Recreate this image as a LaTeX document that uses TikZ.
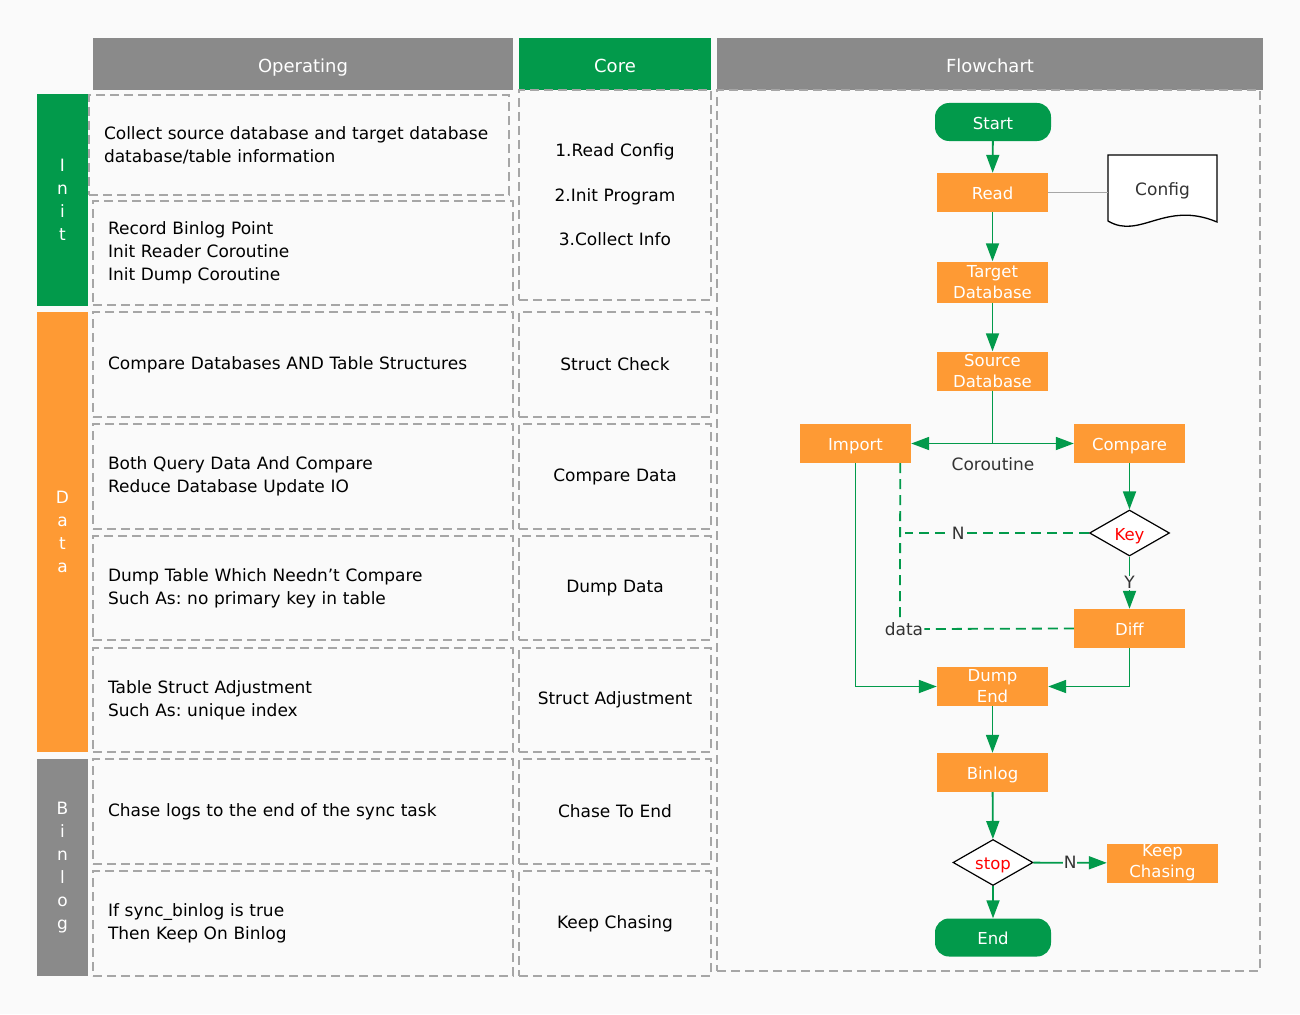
\documentclass[tikz,border=0pt]{standalone}
\usepackage{fontspec}
\setmainfont{DejaVu Sans}
\usetikzlibrary{arrows.meta,shapes.geometric}
\definecolor{hintergrund}{HTML}{FAFAFA}
\definecolor{kopfgrau}{HTML}{8A8A8A}
\definecolor{strichgrau}{HTML}{A6A6A6}
\definecolor{gruen}{HTML}{029A4B}
\definecolor{orange}{HTML}{FE9A34}
\definecolor{dunkel}{HTML}{333333}
\frenchspacing

\begin{document}
\begin{tikzpicture}[x=1pt,y=-1pt,
	zelle/.style={draw=strichgrau, line width=1.4pt, dash pattern=on 9pt off 5pt, inner ysep=0pt},
	op/.style={zelle, minimum width=420pt, text width=390pt, inner xsep=15pt, align=left, font=\fontsize{17}{23}\selectfont},
	kern/.style={zelle, minimum width=192pt, text width=180pt, inner xsep=6pt, align=center, font=\fontsize{17}{23}\selectfont},
	kopf/.style={fill=#1, text=white, minimum height=52pt, inner sep=0pt, text height=18pt, text depth=0pt, font=\fontsize{18}{22}\selectfont},
	band/.style={fill=#1, text=white, minimum width=51pt, inner sep=0pt, align=center, font=\fontsize{17}{23}\selectfont},
	proc/.style={fill=orange, text=white, minimum width=111pt, minimum height=39pt, inner sep=0pt, align=center, font=\fontsize{16.5}{21}\selectfont},
	term/.style={fill=gruen, text=white, rounded corners=14pt, minimum width=116pt, minimum height=38pt, inner sep=0pt, font=\fontsize{16.5}{21}\selectfont},
	eins/.style={text height=14pt, text depth=0pt},
	frage/.style={diamond, aspect=1.7, draw=black, line width=1.2pt, fill=white, text=red, minimum width=80pt, minimum height=46pt, inner sep=0pt, eins, font=\fontsize{16.5}{21}\selectfont},
	lbl/.style={fill=hintergrund, text=dunkel, inner sep=1pt, font=\fontsize{17}{21}\selectfont},
	flow/.style={draw=gruen, line width=1.8pt, -{Triangle[length=18pt,width=13pt]}},
	dflow/.style={draw=gruen, line width=1.8pt, dash pattern=on 10pt off 6pt}]
	%Hintergrund
	\fill[hintergrund] (0,0) rectangle (1300,1014);
	\useasboundingbox (0,0) rectangle (1300,1014);
	%Kopfzeile
	\node[kopf=kopfgrau, minimum width=420pt] (hop) at (303,64) {Operating};
	\node[kopf=gruen, minimum width=192pt] (hcore) at (615,64) {Core};
	\node[kopf=kopfgrau, minimum width=546pt] (hflow) at (990,64) {Flowchart};
	%Phasen
	\node[band=gruen, minimum height=211pt] (binit) at (62.5,200) {I\\n\\i\\t};
	\node[band=orange, minimum height=440pt] (bdata) at (62.5,532) {D\\a\\t\\a};
	\node[band=kopfgrau, minimum height=217pt] (bbinlog) at (62.5,867.5) {B\\i\\n\\l\\o\\g};
	%Operating
	\node[op, minimum height=100pt] (op1) at (299,145) {Collect source database and target database\\database/table information};
	\node[op, minimum height=104pt] (op2) at (303,253) {Record Binlog Point\\Init Reader Coroutine\\Init Dump Coroutine};
	\node[op, minimum height=105pt] (op3) at (303,364.5) {Compare Databases AND Table Structures};
	\node[op, minimum height=105pt] (op4) at (303,476.5) {Both Query Data And Compare\\Reduce Database Update IO};
	\node[op, minimum height=104pt] (op5) at (303,588) {Dump Table Which Needn't Compare\\Such As: no primary key in table};
	\node[op, minimum height=104pt] (op6) at (303,700) {Table Struct Adjustment\\Such As: unique index};
	\node[op, minimum height=105pt] (op7) at (303,811.5) {Chase logs to the end of the sync task};
	\node[op, minimum height=105pt] (op8) at (303,923.5) {If sync\_binlog is true\\Then Keep On Binlog};
	%Core
	\node[kern, minimum height=210pt, font=\fontsize{17}{44.5}\selectfont] (core1) at (615,195) {1.Read Config\\2.Init Program\\3.Collect Info};
	\node[kern, minimum height=105pt] (core3) at (615,364.5) {Struct Check};
	\node[kern, minimum height=105pt] (core4) at (615,476.5) {Compare Data};
	\node[kern, minimum height=104pt] (core5) at (615,588) {Dump Data};
	\node[kern, minimum height=104pt] (core6) at (615,700) {Struct Adjustment};
	\node[kern, minimum height=105pt] (core7) at (615,811.5) {Chase To End};
	\node[kern, minimum height=105pt] (core8) at (615,923.5) {Keep Chasing};
	%Flowchart Rahmen
	\node[zelle, minimum width=543pt, minimum height=881pt] (rahmen) at (988.5,530.5) {};
	%Knoten
	\node[term, eins] (start) at (993,122) {Start};
	\node[proc, eins] (read) at (992.5,192.5) {Read};
	\node[proc, minimum height=41pt] (target) at (992.5,282) {Target\\Database};
	\node[proc] (source) at (992.5,371) {Source\\Database};
	\node[proc, eins] (import) at (855.5,443.5) {Import};
	\node[proc, eins] (compare) at (1129.5,443.5) {Compare};
	\node[frage] (key) at (1129.5,533) {Key};
	\node[proc, eins] (diff) at (1129.5,628.5) {Diff};
	\node[proc] (dump) at (992.5,686.5) {Dump\\End};
	\node[proc, eins] (binlog) at (992.5,772.5) {Binlog};
	\node[frage] (stop) at (993,862.5) {stop};
	\node[proc] (keep) at (1162.5,863) {Keep\\Chasing};
	\node[term, eins] (ende) at (993,937.5) {End};
	%Config Dokument
	\draw[black, line width=1.3pt, fill=white] (1108,221) -- (1108,155) -- (1217,155) -- (1217,222)
		.. controls (1165,200) and (1140,240) .. cycle;
	\node[text=dunkel, minimum width=109pt, minimum height=66pt, inner sep=0pt, font=\fontsize{17}{21}\selectfont] (cfg) at (1162.5,191) {Config};
	%Linien
	\draw[flow] (start) -- (read);
	\draw[draw=strichgrau, line width=1.3pt] (read) -- (read -| cfg.west);
	\draw[flow] (read) -- (target);
	\draw[flow] (target) -- (source);
	\draw[flow] (source.south) |- (import.east);
	\draw[flow] (source.south) |- (compare.west);
	\node[text=dunkel, font=\fontsize{17}{21}\selectfont] (corlbl) at (993,464) {Coroutine};
	\draw[flow] (compare) -- (key);
	\draw[flow] (key) -- node[lbl] (ylbl) {Y} (diff);
	\node[lbl] (datalbl) at (904,629) {data};
	\draw[dflow] ([xshift=-11pt]import.south east) -- (datalbl.north -| 900,0);
	\draw[dflow] (key.west) -- node[lbl, pos=0.71] (nlbl) {N} (key.west -| 905,0);
	\draw[dflow] (diff.west) -- (datalbl.east);
	\draw[flow] (import.south) |- (dump.west);
	\draw[flow] (diff.south) |- (dump.east);
	\draw[flow] (dump) -- (binlog);
	\draw[flow] (binlog) -- (stop);
	\draw[flow] (stop) -- node[lbl] (n2lbl) {N} (keep);
	\draw[flow] (stop) -- (ende);
\end{tikzpicture}
\end{document}
